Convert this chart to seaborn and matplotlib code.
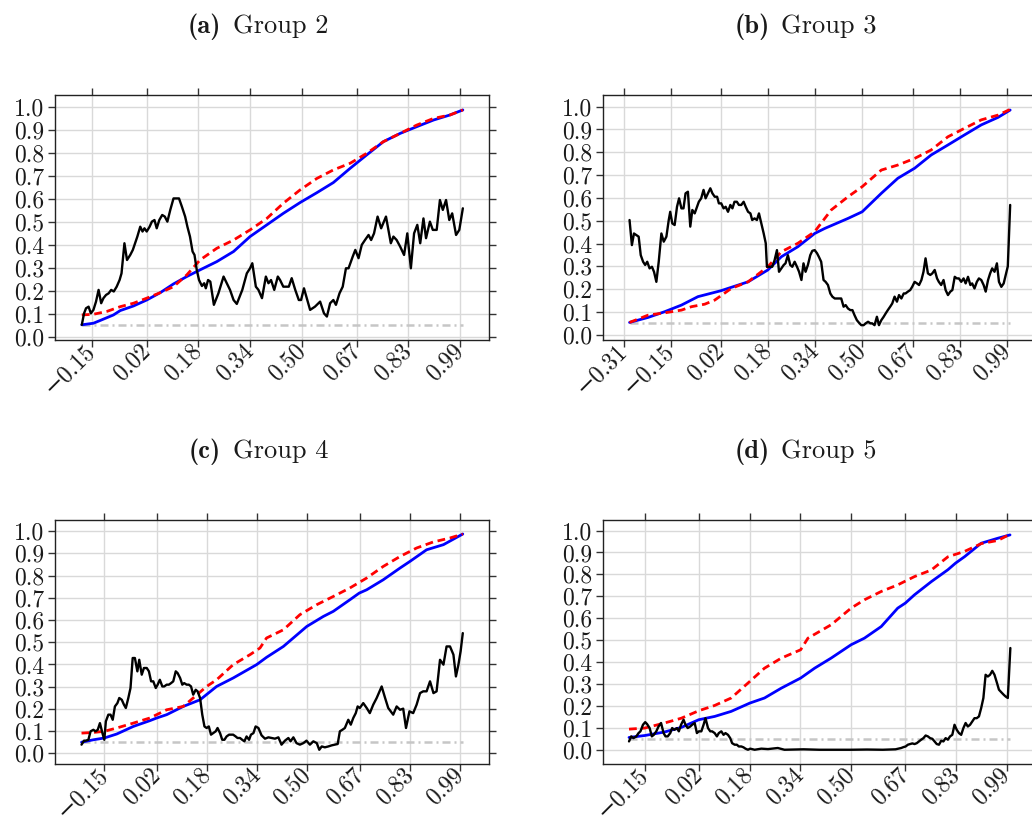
import matplotlib
matplotlib.use("Agg")
import matplotlib.pyplot as plt
import seaborn as sns

# ---------------- data ----------------
ALPHA_LEVEL = 0.05
YTICKS = [0.0, 0.1, 0.2, 0.3, 0.4, 0.5, 0.6, 0.7, 0.8, 0.9, 1.0]
XTICKS_SHORT = [-0.15, 0.02, 0.18, 0.34, 0.50, 0.67, 0.83, 0.99]
XTICKS_LONG = [-0.31, -0.15, 0.02, 0.18, 0.34, 0.50, 0.67, 0.83, 0.99]
TITLE_TAGS = ["(a)", "(b)", "(c)", "(d)"]
TITLE_NAMES = ["Group 2", "Group 3", "Group 4", "Group 5"]

# ----- (a) Group 2 -----
A_black_x = [-0.181, -0.174, -0.168, -0.160, -0.153, -0.145, -0.137, -0.129, -0.121, -0.114,
             -0.106, -0.098, -0.090, -0.082, -0.073, -0.064, -0.058, -0.049, -0.041, -0.031,
             -0.023, -0.016, -0.009, 0.000, 0.007, 0.013, 0.020, 0.029, 0.036, 0.044,
             0.051, 0.059, 0.068, 0.076, 0.084, 0.093, 0.103, 0.120, 0.129, 0.139,
             0.146, 0.154, 0.162, 0.168, 0.175, 0.182, 0.191, 0.198, 0.203, 0.210,
             0.217, 0.228, 0.242, 0.258, 0.278, 0.289, 0.299, 0.316, 0.330, 0.340,
             0.347, 0.358, 0.366, 0.377, 0.389, 0.397, 0.405, 0.415, 0.426, 0.433,
             0.443, 0.460, 0.469, 0.480, 0.491, 0.498, 0.507, 0.526, 0.541, 0.557,
             0.569, 0.578, 0.588, 0.598, 0.606, 0.617, 0.627, 0.637, 0.645, 0.658,
             0.666, 0.676, 0.686, 0.696, 0.707, 0.715, 0.724, 0.735, 0.746, 0.761,
             0.776, 0.784, 0.794, 0.805, 0.817, 0.827, 0.838, 0.848, 0.858, 0.867,
             0.877, 0.885, 0.897, 0.906, 0.918, 0.928, 0.937, 0.947, 0.957, 0.966,
             0.978, 0.988, 0.999]
A_black_y = [0.051, 0.101, 0.123, 0.130, 0.101, 0.116, 0.152, 0.203, 0.145, 0.167,
             0.181, 0.188, 0.203, 0.196, 0.217, 0.246, 0.275, 0.406, 0.333, 0.355,
             0.377, 0.406, 0.435, 0.478, 0.457, 0.471, 0.457, 0.478, 0.500, 0.507,
             0.471, 0.507, 0.529, 0.522, 0.500, 0.551, 0.601, 0.601, 0.565, 0.522,
             0.478, 0.435, 0.370, 0.355, 0.290, 0.246, 0.220, 0.232, 0.210, 0.246,
             0.239, 0.138, 0.188, 0.261, 0.203, 0.159, 0.142, 0.203, 0.275, 0.297,
             0.319, 0.217, 0.203, 0.167, 0.261, 0.232, 0.246, 0.203, 0.261, 0.246,
             0.217, 0.217, 0.254, 0.203, 0.159, 0.159, 0.210, 0.116, 0.130, 0.152,
             0.101, 0.087, 0.145, 0.159, 0.138, 0.188, 0.217, 0.297, 0.297, 0.348,
             0.377, 0.341, 0.399, 0.420, 0.442, 0.420, 0.449, 0.522, 0.471, 0.522,
             0.406, 0.435, 0.420, 0.391, 0.355, 0.449, 0.297, 0.449, 0.486, 0.406,
             0.514, 0.428, 0.500, 0.464, 0.464, 0.594, 0.551, 0.594, 0.507, 0.536,
             0.442, 0.464, 0.558]
A_blue_x = [-0.181, -0.145, -0.124, -0.083, -0.062, -0.021, 0.020, 0.062, 0.103, 0.144,
            0.185, 0.237, 0.289, 0.340, 0.392, 0.443, 0.495, 0.547, 0.598, 0.650,
            0.701, 0.753, 0.805, 0.856, 0.908, 0.959, 0.999]
A_blue_y = [0.051, 0.058, 0.070, 0.094, 0.113, 0.133, 0.159, 0.191, 0.229, 0.261,
            0.290, 0.326, 0.370, 0.435, 0.486, 0.536, 0.583, 0.626, 0.670, 0.732,
            0.790, 0.848, 0.884, 0.913, 0.942, 0.964, 0.986]
A_red_x = [-0.181, -0.145, -0.104, -0.062, -0.021, 0.020, 0.062, 0.103, 0.144, 0.185,
           0.237, 0.289, 0.340, 0.392, 0.443, 0.495, 0.547, 0.598, 0.650, 0.701,
           0.753, 0.805, 0.856, 0.908, 0.959, 0.999]
A_red_y = [0.094, 0.097, 0.109, 0.130, 0.145, 0.167, 0.191, 0.217, 0.268, 0.333,
           0.384, 0.420, 0.464, 0.514, 0.580, 0.638, 0.688, 0.725, 0.754, 0.797,
           0.848, 0.884, 0.920, 0.949, 0.964, 0.986]

# ----- (b) Group 3 -----
B_black_x = [-0.290, -0.282, -0.275, -0.267, -0.259, -0.252, -0.244, -0.237, -0.230, -0.222,
             -0.214, -0.207, -0.199, -0.191, -0.182, -0.174, -0.165, -0.157, -0.152, -0.145,
             -0.137, -0.129, -0.122, -0.114, -0.107, -0.100, -0.092, -0.084, -0.077, -0.069,
             -0.061, -0.055, -0.047, -0.039, -0.032, -0.024, -0.016, -0.009, -0.001, 0.007,
             0.013, 0.021, 0.029, 0.036, 0.044, 0.052, 0.059, 0.066, 0.074, 0.081,
             0.089, 0.097, 0.104, 0.112, 0.120, 0.126, 0.134, 0.142, 0.149, 0.157,
             0.165, 0.172, 0.176, 0.187, 0.194, 0.202, 0.210, 0.217, 0.225, 0.233,
             0.239, 0.247, 0.255, 0.262, 0.270, 0.278, 0.285, 0.293, 0.300, 0.307,
             0.315, 0.323, 0.330, 0.338, 0.346, 0.352, 0.360, 0.368, 0.375, 0.383,
             0.391, 0.398, 0.406, 0.414, 0.420, 0.428, 0.436, 0.443, 0.451, 0.459,
             0.466, 0.473, 0.481, 0.488, 0.496, 0.504, 0.511, 0.519, 0.527, 0.533,
             0.541, 0.549, 0.556, 0.564, 0.572, 0.579, 0.586, 0.594, 0.601, 0.609,
             0.617, 0.624, 0.632, 0.640, 0.646, 0.654, 0.662, 0.669, 0.677, 0.685,
             0.692, 0.700, 0.707, 0.714, 0.722, 0.730, 0.737, 0.745, 0.753, 0.759,
             0.767, 0.775, 0.782, 0.790, 0.798, 0.805, 0.813, 0.820, 0.827, 0.835,
             0.843, 0.850, 0.858, 0.866, 0.872, 0.880, 0.888, 0.895, 0.903, 0.911,
             0.918, 0.926, 0.933, 0.940, 0.948, 0.956, 0.963, 0.971, 0.979, 0.986,
             0.993, 1.001]
B_black_y = [0.503, 0.393, 0.444, 0.437, 0.430, 0.349, 0.320, 0.306, 0.320, 0.291,
             0.298, 0.276, 0.232, 0.320, 0.444, 0.408, 0.430, 0.503, 0.539, 0.488,
             0.481, 0.561, 0.598, 0.554, 0.554, 0.620, 0.627, 0.474, 0.547, 0.532,
             0.561, 0.583, 0.598, 0.635, 0.598, 0.620, 0.642, 0.620, 0.605, 0.605,
             0.576, 0.576, 0.554, 0.561, 0.539, 0.569, 0.554, 0.583, 0.583, 0.569,
             0.569, 0.583, 0.561, 0.539, 0.532, 0.503, 0.510, 0.503, 0.532, 0.488,
             0.444, 0.401, 0.298, 0.298, 0.298, 0.327, 0.371, 0.276, 0.291, 0.306,
             0.313, 0.349, 0.306, 0.298, 0.320, 0.298, 0.276, 0.240, 0.313, 0.276,
             0.306, 0.349, 0.368, 0.371, 0.357, 0.342, 0.320, 0.240, 0.232, 0.218,
             0.181, 0.167, 0.159, 0.159, 0.159, 0.159, 0.123, 0.130, 0.115, 0.108,
             0.108, 0.086, 0.064, 0.053, 0.042, 0.042, 0.050, 0.057, 0.050, 0.050,
             0.042, 0.079, 0.042, 0.064, 0.079, 0.094, 0.108, 0.123, 0.137, 0.167,
             0.145, 0.174, 0.159, 0.181, 0.181, 0.189, 0.196, 0.211, 0.232, 0.225,
             0.218, 0.240, 0.276, 0.335, 0.269, 0.262, 0.269, 0.284, 0.247, 0.232,
             0.218, 0.240, 0.196, 0.174, 0.189, 0.196, 0.254, 0.247, 0.247, 0.232,
             0.247, 0.225, 0.254, 0.218, 0.225, 0.203, 0.232, 0.247, 0.240, 0.218,
             0.189, 0.240, 0.269, 0.291, 0.276, 0.313, 0.232, 0.210, 0.225, 0.262,
             0.300, 0.569]
B_blue_x = [-0.290, -0.227, -0.171, -0.114, -0.058, 0.020, 0.112, 0.179, 0.225, 0.281,
            0.338, 0.372, 0.451, 0.499, 0.564, 0.620, 0.677, 0.733, 0.790, 0.846,
            0.903, 0.960, 1.001]
B_blue_y = [0.054, 0.076, 0.101, 0.130, 0.167, 0.193, 0.232, 0.284, 0.342, 0.386,
            0.444, 0.466, 0.510, 0.539, 0.620, 0.686, 0.730, 0.788, 0.832, 0.876,
            0.920, 0.953, 0.985]
B_red_x = [-0.290, -0.227, -0.171, -0.114, -0.080, -0.035, -0.001, 0.055, 0.112, 0.179,
           0.225, 0.281, 0.338, 0.394, 0.451, 0.499, 0.564, 0.620, 0.677, 0.733,
           0.790, 0.846, 0.903, 0.960, 1.001]
B_red_y = [0.054, 0.086, 0.096, 0.108, 0.123, 0.134, 0.152, 0.203, 0.232, 0.298,
           0.364, 0.401, 0.452, 0.547, 0.605, 0.649, 0.722, 0.744, 0.773, 0.810,
           0.868, 0.905, 0.942, 0.963, 0.988]

# ----- (c) Group 4 -----
C_black_x = [-0.223, -0.215, -0.209, -0.201, -0.194, -0.185, -0.178, -0.171, -0.164, -0.156,
             -0.150, -0.145, -0.137, -0.130, -0.123, -0.116, -0.108, -0.102, -0.094, -0.087,
             -0.081, -0.073, -0.066, -0.059, -0.052, -0.044, -0.038, -0.030, -0.023, -0.014,
             -0.007, 0.000, 0.007, 0.015, 0.021, 0.028, 0.036, 0.042, 0.050, 0.057,
             0.064, 0.071, 0.079, 0.085, 0.093, 0.100, 0.106, 0.114, 0.121, 0.128,
             0.135, 0.143, 0.149, 0.157, 0.164, 0.171, 0.178, 0.185, 0.192, 0.199,
             0.207, 0.213, 0.221, 0.228, 0.235, 0.242, 0.250, 0.256, 0.263, 0.271,
             0.277, 0.285, 0.292, 0.299, 0.306, 0.314, 0.320, 0.328, 0.335, 0.344,
             0.354, 0.365, 0.376, 0.386, 0.397, 0.408, 0.418, 0.429, 0.440, 0.447,
             0.456, 0.466, 0.477, 0.488, 0.498, 0.509, 0.520, 0.531, 0.539, 0.547,
             0.557, 0.568, 0.579, 0.589, 0.598, 0.605, 0.613, 0.621, 0.632, 0.640,
             0.648, 0.656, 0.662, 0.669, 0.680, 0.691, 0.701, 0.712, 0.723, 0.739,
             0.750, 0.760, 0.776, 0.787, 0.798, 0.808, 0.817, 0.828, 0.840, 0.851,
             0.862, 0.872, 0.883, 0.894, 0.905, 0.915, 0.926, 0.937, 0.947, 0.958,
             0.969, 0.977, 0.985, 0.992, 0.999]
C_black_y = [0.039, 0.057, 0.057, 0.061, 0.099, 0.106, 0.099, 0.106, 0.136, 0.091,
             0.061, 0.144, 0.174, 0.174, 0.151, 0.211, 0.226, 0.249, 0.241, 0.219,
             0.204, 0.249, 0.294, 0.429, 0.429, 0.369, 0.421, 0.354, 0.384, 0.384,
             0.369, 0.324, 0.324, 0.294, 0.309, 0.331, 0.301, 0.301, 0.309, 0.309,
             0.316, 0.324, 0.369, 0.361, 0.339, 0.309, 0.316, 0.309, 0.309, 0.301,
             0.264, 0.286, 0.279, 0.249, 0.174, 0.121, 0.114, 0.121, 0.084, 0.091,
             0.099, 0.114, 0.091, 0.061, 0.061, 0.076, 0.084, 0.084, 0.084, 0.076,
             0.069, 0.069, 0.061, 0.054, 0.076, 0.061, 0.084, 0.091, 0.121, 0.114,
             0.081, 0.066, 0.072, 0.069, 0.066, 0.072, 0.039, 0.057, 0.069, 0.054,
             0.072, 0.046, 0.039, 0.046, 0.057, 0.039, 0.054, 0.046, 0.016, 0.031,
             0.027, 0.031, 0.036, 0.039, 0.042, 0.099, 0.106, 0.114, 0.151, 0.129,
             0.159, 0.181, 0.211, 0.204, 0.226, 0.204, 0.181, 0.219, 0.249, 0.301,
             0.249, 0.204, 0.174, 0.211, 0.196, 0.201, 0.114, 0.189, 0.181, 0.219,
             0.271, 0.279, 0.279, 0.324, 0.271, 0.279, 0.421, 0.399, 0.481, 0.481,
             0.444, 0.346, 0.399, 0.459, 0.541]
C_blue_x = [-0.223, -0.185, -0.150, -0.110, -0.057, -0.004, 0.018, 0.050, 0.103, 0.157,
            0.210, 0.263, 0.338, 0.370, 0.424, 0.499, 0.552, 0.584, 0.637, 0.667,
            0.691, 0.744, 0.798, 0.830, 0.883, 0.937, 0.999]
C_blue_y = [0.050, 0.061, 0.069, 0.087, 0.121, 0.147, 0.159, 0.174, 0.211, 0.241,
            0.301, 0.339, 0.399, 0.432, 0.481, 0.571, 0.616, 0.639, 0.691, 0.721,
            0.736, 0.781, 0.834, 0.864, 0.916, 0.939, 0.987]
C_red_x = [-0.223, -0.185, -0.150, -0.110, -0.057, -0.004, 0.050, 0.103, 0.135, 0.178,
           0.210, 0.263, 0.317, 0.349, 0.370, 0.424, 0.477, 0.531, 0.584, 0.637,
           0.691, 0.744, 0.798, 0.851, 0.904, 0.958, 0.999]
C_red_y = [0.091, 0.094, 0.099, 0.114, 0.136, 0.159, 0.196, 0.211, 0.249, 0.301,
           0.331, 0.399, 0.444, 0.474, 0.519, 0.556, 0.624, 0.669, 0.706, 0.744,
           0.789, 0.841, 0.886, 0.924, 0.951, 0.969, 0.987]

# ----- (d) Group 5 -----
D_black_x = [-0.200, -0.193, -0.186, -0.177, -0.170, -0.164, -0.156, -0.149, -0.143, -0.135,
             -0.128, -0.122, -0.114, -0.107, -0.099, -0.091, -0.085, -0.078, -0.070, -0.064,
             -0.057, -0.049, -0.043, -0.036, -0.028, -0.022, -0.015, -0.007, -0.001, 0.007,
             0.014, 0.020, 0.028, 0.035, 0.041, 0.049, 0.056, 0.062, 0.070, 0.077,
             0.083, 0.091, 0.098, 0.104, 0.112, 0.119, 0.125, 0.133, 0.140, 0.146,
             0.154, 0.161, 0.167, 0.175, 0.182, 0.196, 0.217, 0.238, 0.269, 0.290,
             0.350, 0.400, 0.450, 0.500, 0.550, 0.600, 0.640, 0.658, 0.665, 0.672,
             0.679, 0.686, 0.693, 0.700, 0.707, 0.714, 0.721, 0.728, 0.735, 0.742,
             0.749, 0.756, 0.763, 0.770, 0.777, 0.784, 0.791, 0.798, 0.805, 0.812,
             0.819, 0.826, 0.833, 0.840, 0.847, 0.854, 0.861, 0.868, 0.875, 0.882,
             0.889, 0.896, 0.903, 0.910, 0.917, 0.924, 0.931, 0.938, 0.945, 0.952,
             0.960, 0.966, 0.973, 0.981, 0.987, 0.994, 1.002]
D_black_y = [0.038, 0.061, 0.053, 0.061, 0.076, 0.084, 0.114, 0.126, 0.117, 0.099,
             0.061, 0.068, 0.084, 0.106, 0.122, 0.076, 0.061, 0.061, 0.076, 0.099,
             0.091, 0.099, 0.084, 0.114, 0.137, 0.114, 0.099, 0.106, 0.114, 0.122,
             0.076, 0.084, 0.084, 0.114, 0.144, 0.099, 0.084, 0.084, 0.076, 0.061,
             0.076, 0.084, 0.068, 0.076, 0.068, 0.053, 0.030, 0.023, 0.023, 0.015,
             0.015, 0.011, 0.005, 0.000, 0.005, 0.000, 0.005, 0.003, 0.008, 0.000,
             0.002, 0.000, 0.000, 0.000, 0.001, 0.000, 0.002, 0.008, 0.012, 0.015,
             0.023, 0.026, 0.029, 0.026, 0.030, 0.038, 0.046, 0.053, 0.065, 0.061,
             0.053, 0.050, 0.038, 0.026, 0.023, 0.041, 0.038, 0.053, 0.046, 0.061,
             0.068, 0.114, 0.091, 0.076, 0.068, 0.099, 0.122, 0.106, 0.114, 0.129,
             0.144, 0.144, 0.152, 0.190, 0.236, 0.342, 0.334, 0.342, 0.360, 0.342,
             0.304, 0.274, 0.263, 0.251, 0.243, 0.236, 0.464]
D_blue_x = [-0.200, -0.150, -0.088, -0.035, 0.020, 0.070, 0.122, 0.181, 0.227, 0.280,
            0.341, 0.385, 0.437, 0.500, 0.542, 0.595, 0.647, 0.671, 0.700, 0.753,
            0.805, 0.829, 0.858, 0.910, 0.963, 1.001]
D_blue_y = [0.056, 0.065, 0.081, 0.102, 0.137, 0.152, 0.175, 0.213, 0.236, 0.281,
            0.327, 0.372, 0.418, 0.479, 0.509, 0.562, 0.646, 0.669, 0.707, 0.767,
            0.821, 0.851, 0.881, 0.942, 0.965, 0.980]
D_red_x = [-0.200, -0.150, -0.088, -0.035, 0.020, 0.070, 0.122, 0.181, 0.227, 0.280,
           0.341, 0.364, 0.437, 0.500, 0.542, 0.595, 0.647, 0.700, 0.753, 0.805,
           0.858, 0.910, 0.963, 1.001]
D_red_y = [0.094, 0.099, 0.122, 0.144, 0.178, 0.202, 0.236, 0.312, 0.372, 0.418,
           0.456, 0.509, 0.570, 0.646, 0.684, 0.722, 0.752, 0.790, 0.820, 0.880,
           0.905, 0.940, 0.955, 0.983]

# ---------------- style ----------------
sns.set_theme(style="whitegrid")
plt.rcParams["font.family"] = ["cmr10", "DejaVu Serif"]
plt.rcParams["axes.unicode_minus"] = True

fig = plt.figure(figsize=(10.32, 8.24), dpi=100)
fig.patch.set_facecolor("white")

W, H = 1032.0, 824.0
# axes boxes in pixels: (left, top, right, bottom)
boxes = [(55, 95, 489, 340), (603, 95, 1037, 340), (55, 520, 489, 764), (603, 520, 1037, 764)]
xlims = [(-0.264, 1.080), (-0.380, 1.092), (-0.308, 1.083), (-0.282, 1.086)]
ylims = [(-0.015, 1.051), (-0.023, 1.051), (-0.048, 1.050), (-0.065, 1.048)]
xticks_list = [XTICKS_SHORT, XTICKS_LONG, XTICKS_SHORT, XTICKS_SHORT]

panels = [
    (A_black_x, A_black_y, A_blue_x, A_blue_y, A_red_x, A_red_y),
    (B_black_x, B_black_y, B_blue_x, B_blue_y, B_red_x, B_red_y),
    (C_black_x, C_black_y, C_blue_x, C_blue_y, C_red_x, C_red_y),
    (D_black_x, D_black_y, D_blue_x, D_blue_y, D_red_x, D_red_y),
]

# title anchors in pixels: (tag right edge, name left edge, baseline y)
title_pos = [(221, 233, 33), (770, 781, 33), (221, 233, 458), (770, 781, 458)]


def fmt(v, nd):
    s = f"{v:.{nd}f}"
    return s.replace("-", "\u2212")


for i, (bx, by, ux, uy, rx, ry) in enumerate(panels):
    l, t, r, b = boxes[i]
    ax = fig.add_axes([l / W, 1 - b / H, (r - l) / W, (b - t) / H])
    ax.set_facecolor("white")

    xmin, xmax = min(bx), max(bx)
    sns.lineplot(x=[xmin, xmax], y=[ALPHA_LEVEL, ALPHA_LEVEL], ax=ax, color="#c6c6c6",
                 linewidth=1.8, linestyle=(0, (3.2, 1.6, 0.8, 1.6)), estimator=None)
    sns.lineplot(x=ux, y=uy, ax=ax, color="#0000ff", linewidth=2.0, estimator=None)
    sns.lineplot(x=rx, y=ry, ax=ax, color="#ff0000", linewidth=2.0,
                 linestyle=(0, (2.8, 1.7)), estimator=None)
    sns.lineplot(x=bx, y=by, ax=ax, color="black", linewidth=1.7, estimator=None)

    ax.set_xlim(*xlims[i])
    ax.set_ylim(*ylims[i])
    ax.set_xlabel("")
    ax.set_ylabel("")

    xt = xticks_list[i]
    ax.set_xticks(xt)
    ax.set_xticklabels([fmt(v, 2) for v in xt], rotation=45, ha="right",
                       rotation_mode="anchor", va="center")
    ax.set_yticks(YTICKS)
    ax.set_yticklabels([fmt(v, 1) for v in YTICKS])

    ax.grid(True, color="#d9d9d9", linewidth=1.0)
    ax.set_axisbelow(True)
    for s in ax.spines.values():
        s.set_visible(True)
        s.set_color("#222222")
        s.set_linewidth(1.0)
    ax.tick_params(which="major", direction="out", length=5, width=1.0, color="#333333",
                   top=True, right=True, bottom=True, left=True,
                   labeltop=False, labelright=False, labelsize=17, pad=3,
                   labelcolor="#1a1a1a")
    ax.tick_params(axis="x", pad=0.5)

    tx, nx, ty = title_pos[i]
    fig.text(tx / W, 1 - ty / H, TITLE_TAGS[i], ha="right", va="baseline",
             fontsize=19, family=["cmb10", "DejaVu Serif"], color="#1a1a1a")
    fig.text(nx / W, 1 - ty / H, TITLE_NAMES[i], ha="left", va="baseline",
             fontsize=19, family=["cmr10", "DejaVu Serif"], color="#1a1a1a")

fig.savefig("out.png", dpi=100, facecolor="white")
